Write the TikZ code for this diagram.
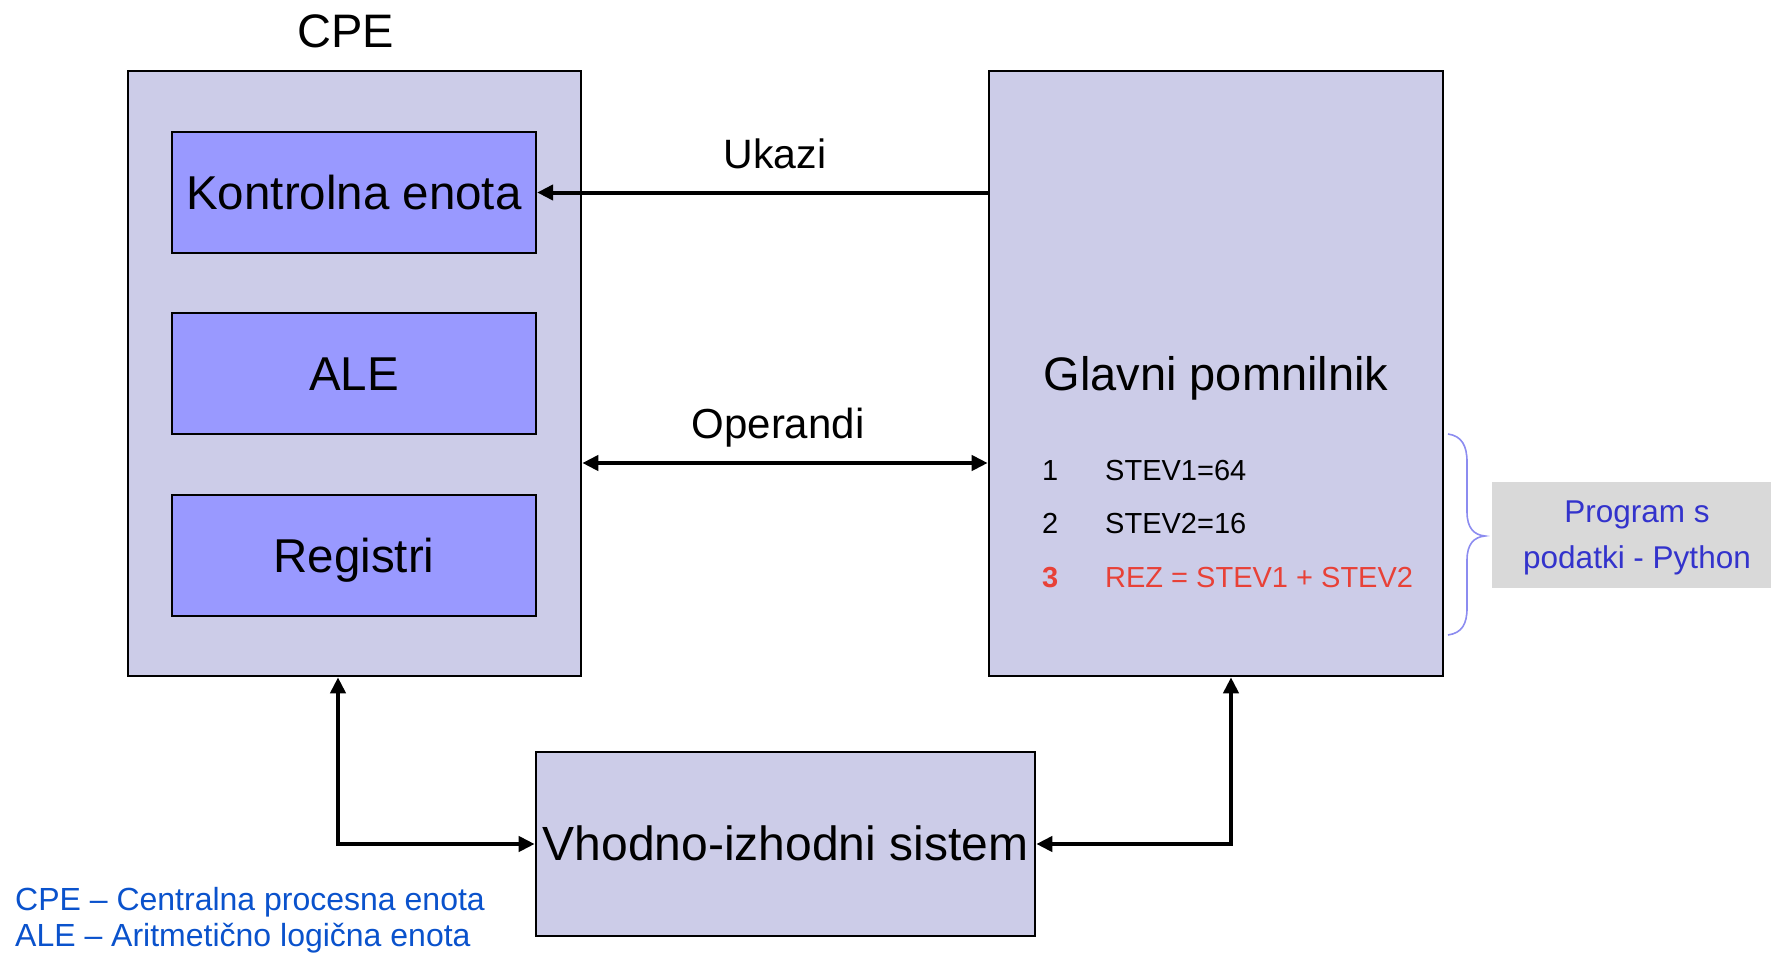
\documentclass[tikz,border=0pt]{standalone}
\usepackage{fontspec}
\setmainfont{Liberation Sans}
\usetikzlibrary{arrows.meta,calc}

\definecolor{lav}{RGB}{204,204,232}
\definecolor{violet}{RGB}{153,153,255}
\definecolor{legblue}{RGB}{10,82,204}
\definecolor{progblue}{RGB}{51,51,204}
\definecolor{rezred}{RGB}{232,65,55}
\definecolor{greybox}{RGB}{217,217,217}
\definecolor{bracecol}{RGB}{140,140,240}

\newcommand{\fs}[1]{\fontsize{#1}{#1}\selectfont}

\begin{document}
\begin{tikzpicture}[x=1pt,y=-1pt,
  outer/.style={draw=black,line width=2.6pt,fill=lav,inner sep=0pt,
    text height=33.6pt,text depth=0pt,font=\fs{47}},
  unit/.style={draw=black,line width=2.2pt,fill=violet,inner sep=0pt,
    minimum width=364pt,minimum height=121pt,
    text height=33.6pt,text depth=0pt,font=\fs{47.5}},
  conn/.style={line width=4pt,-{Triangle[length=16pt,width=15pt]}},
  conn2/.style={line width=4pt,{Triangle[length=16pt,width=15pt]}-{Triangle[length=16pt,width=15pt]}},
  lbl/.style={inner sep=0pt,anchor=base},
  memline/.style={inner sep=0pt,anchor=base west,font=\fs{29}}]

\useasboundingbox (0,0) rectangle (1771,953);

% processor and its three units
\node[outer,minimum width=453pt,minimum height=605pt] (cpe) at (354.5,373.5) {};
\node[lbl,font=\fs{47}] (cpelbl) at (346,47) {CPE};
\node[unit] (ke)  at (354,192.5) {Kontrolna enota};
\node[unit] (ale) at (354,373.5) {ALE};
\node[unit] (reg) at (354,555.5) {Registri};

% main memory with its contents
\node[outer,minimum width=454pt,minimum height=605pt] (mem) at (1216,373.5) {Glavni pomnilnik};
\node[memline] (n1) at (1042,480) {1};
\node[memline] (s1) at (1105,480) {STEV1=64};
\node[memline] (n2) at (1042,533) {2};
\node[memline] (s2) at (1105,533) {STEV2=16};
\node[memline,text=rezred,font=\fs{29}\bfseries] (n3) at (1042,587) {3};
\node[memline,text=rezred] (s3) at (1105,587) {REZ = STEV1 + STEV2};

% input/output system
\node[outer,font=\fs{48},minimum width=499pt,minimum height=184pt] (io) at (785.5,844) {Vhodno-izhodni sistem};

% buses
\coordinate (opy) at (0,463);
\coordinate (lx) at (338,0);
\coordinate (rx) at (1231,0);
\draw[conn] (mem.west |- ke.east) -- (ke.east);
\node[lbl,font=\fs{41}] (ukazi) at (775,168) {Ukazi};
\draw[conn2] (cpe.east |- opy) -- (mem.west |- opy);
\node[lbl,font=\fs{42}] (operandi) at (778,438) {Operandi};
\draw[conn2] (cpe.south -| lx) |- (io.west);
\draw[conn2] (mem.south -| rx) |- (io.east);

% brace and program note
\draw[bracecol,line width=1.6pt]
  (1448,434) .. controls (1462,436) and (1467,446) .. (1467,462)
  -- (1467,512) .. controls (1467,528) and (1474,535) .. (1485,536)
  .. controls (1474,537) and (1467,544) .. (1467,560)
  -- (1467,608) .. controls (1467,624) and (1462,633) .. (1448,635);
\node[fill=greybox,inner sep=0pt,minimum width=279pt,minimum height=106pt,anchor=north west] (prog) at (1492,482) {};
\node[lbl,font=\fs{31.5},text=progblue] (prog1) at (1637,522) {Program s};
\node[lbl,font=\fs{31.5},text=progblue] (prog2) at (1637,568) {podatki - Python};

% legend
\node[lbl,anchor=base west,font=\fs{32},text=legblue] (leg1) at (15,910) {CPE – Centralna procesna enota};
\node[lbl,anchor=base west,font=\fs{32},text=legblue] (leg2) at (15,946) {ALE – Aritmetično logična enota};
\end{tikzpicture}
\end{document}
